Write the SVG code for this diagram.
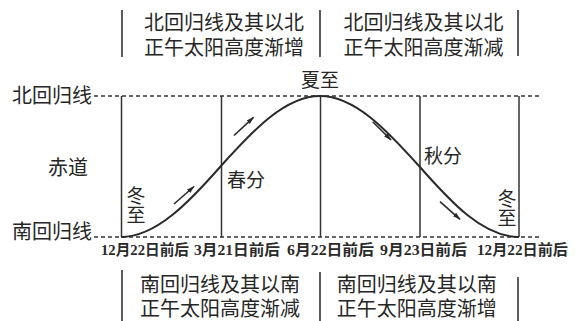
<svg xmlns="http://www.w3.org/2000/svg" width="582" height="321" viewBox="0 0 582 321">
<style>
.t{font-family:"Noto Sans CJK SC","Noto Sans",sans-serif;fill:#262626;}
.big{font-size:20px;}
.lab{font-size:19px;}
.vert{writing-mode:vertical-rl;text-orientation:upright;}
.date{font-family:"Liberation Serif","Noto Sans CJK SC",serif;font-size:15px;font-weight:bold;fill:#2a2a2a;}
.bar{stroke:#333;stroke-width:1.6;fill:none;}
.dash{stroke:#333;stroke-width:1.3;stroke-dasharray:4 3;fill:none;}
.v{stroke:#333;stroke-width:1.5;fill:none;}
.curve{stroke:#2a2a2a;stroke-width:2;fill:none;}
.arr{stroke:#2a2a2a;stroke-width:1.6;fill:none;marker-end:url(#ah);}
</style>
<defs>
<marker id="ah" viewBox="0 0 10 10" refX="9" refY="5" markerWidth="8" markerHeight="8" orient="auto" markerUnits="userSpaceOnUse">
<path d="M0,2 L10,5 L0,8 Z" fill="#2a2a2a"/>
</marker>
</defs>
<rect width="582" height="321" fill="#fff"/>
<g id="top-boxes">
<line class="bar" x1="122" y1="10" x2="122" y2="57"/>
<line class="bar" x1="320" y1="10" x2="320" y2="57"/>
<line class="bar" x1="518" y1="10" x2="518" y2="56"/>
<text class="t big" text-anchor="middle"><tspan x="224" y="29.5">北回归线及其以北</tspan><tspan x="224" y="55">正午太阳高度渐增</tspan></text>
<text class="t big" text-anchor="middle"><tspan x="423.5" y="29.5">北回归线及其以北</tspan><tspan x="423.5" y="55">正午太阳高度渐减</tspan></text>
</g>
<g id="bottom-boxes">
<line class="bar" x1="122" y1="270" x2="122" y2="321"/>
<line class="bar" x1="320" y1="272" x2="320" y2="321"/>
<line class="bar" x1="518" y1="277" x2="518" y2="321"/>
<text class="t big" text-anchor="middle"><tspan x="220" y="292">南回归线及其以南</tspan><tspan x="220" y="316">正午太阳高度渐减</tspan></text>
<text class="t big" text-anchor="middle"><tspan x="416.7" y="292">南回归线及其以南</tspan><tspan x="416.7" y="316">正午太阳高度渐增</tspan></text>
</g>
<g id="axes">
<line class="dash" x1="94" y1="96" x2="541" y2="96"/>
<line class="dash" x1="94" y1="237" x2="541" y2="237"/>
<line class="v" x1="121.5" y1="96" x2="121.5" y2="237"/>
<line class="v" x1="221.5" y1="96" x2="221.5" y2="237"/>
<line class="v" x1="320.5" y1="96" x2="320.5" y2="237"/>
<line class="v" x1="420" y1="96" x2="420" y2="237"/>
<line class="v" x1="519" y1="96" x2="519" y2="237"/>
</g>
<g id="labels">
<text class="t big" x="12" y="102.5">北回归线</text>
<text class="t big" x="12" y="239">南回归线</text>
<text class="t big" x="48" y="175">赤道</text>
<text class="t lab" x="320" y="87" text-anchor="middle">夏至</text>
<text class="t lab" x="227" y="187">春分</text>
<text class="t lab" x="424" y="162.5">秋分</text>
<text class="t lab vert" x="136" y="186">冬至</text>
<text class="t lab vert" x="507" y="189">冬至</text>
</g>
<g id="dates">
<text class="date" x="101" y="255" textLength="88" lengthAdjust="spacingAndGlyphs">12月22日前后</text>
<text class="date" x="194" y="255" textLength="86" lengthAdjust="spacingAndGlyphs">3月21日前后</text>
<text class="date" x="287" y="255" textLength="87" lengthAdjust="spacingAndGlyphs">6月22日前后</text>
<text class="date" x="380" y="255" textLength="87" lengthAdjust="spacingAndGlyphs">9月23日前后</text>
<text class="date" x="477" y="255" textLength="91" lengthAdjust="spacingAndGlyphs">12月22日前后</text>
</g>
<g id="connectors">
<path class="curve" d="M121,237 C156,237 188.7,202.6 220.5,166.5 C253,130.4 285,96 320,96 C355,96 387,130.4 419.5,166.5 C451.3,202.6 483,237 519,237"/>
<line class="arr" x1="174" y1="204" x2="194" y2="186.5"/>
<line class="arr" x1="234" y1="135.5" x2="253.5" y2="117.3"/>
<line class="arr" x1="372.7" y1="121.7" x2="391" y2="140"/>
<line class="arr" x1="440" y1="201.7" x2="460" y2="219.3"/>
</g>
</svg>
